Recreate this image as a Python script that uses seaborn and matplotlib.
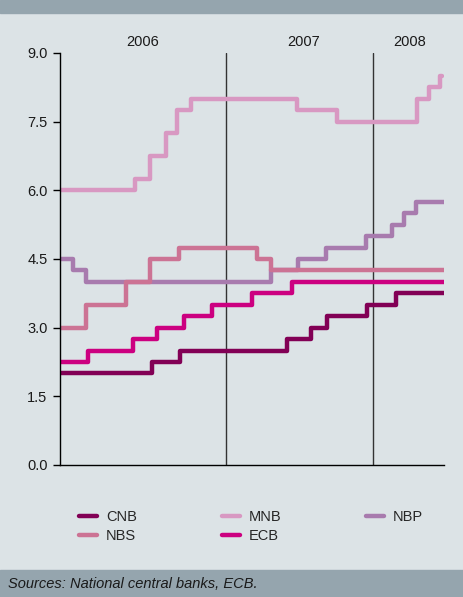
import numpy as np
import pandas as pd
import matplotlib
matplotlib.use("Agg")
import matplotlib.pyplot as plt
import seaborn as sns

# months counted from Jan 2006 (0 = start of 2006)
X_START, X_END = -1.55, 29.8

cnb_x = [X_START, 6.0, 8.25, 17.0, 18.95, 20.25, 23.5, 25.9, X_END]
cnb_y = [2.0, 2.25, 2.5, 2.75, 3.0, 3.25, 3.5, 3.75, 3.75]

mnb_x = [X_START, 4.55, 5.8, 7.1, 8.0, 9.15, 17.8, 21.05, 27.6, 28.55, 29.45, 29.65]
mnb_y = [6.0, 6.25, 6.75, 7.25, 7.75, 8.0, 7.75, 7.5, 8.0, 8.25, 8.5, 8.5]

nbp_x = [X_START, -0.5, 0.55, 15.7, 17.9, 20.15, 23.45, 25.55, 26.55, 27.5, X_END]
nbp_y = [4.5, 4.25, 4.0, 4.25, 4.5, 4.75, 5.0, 5.25, 5.5, 5.75, 5.75]

nbs_x = [X_START, 0.55, 3.85, 5.8, 8.15, 14.55, 15.7, X_END]
nbs_y = [3.0, 3.5, 4.0, 4.5, 4.75, 4.5, 4.25, 4.25]

ecb_x = [X_START, 0.75, 4.4, 6.35, 8.55, 10.85, 14.1, 17.4, X_END]
ecb_y = [2.25, 2.5, 2.75, 3.0, 3.25, 3.5, 3.75, 4.0, 4.0]

banks = ['CNB', 'MNB', 'NBP', 'NBS', 'ECB']
year_labels = ['2006', '2007', '2008']
year_label_x = [5.2, 18.3, 27.0]
year_breaks = [12, 24]
yticks = [0.0, 1.5, 3.0, 4.5, 6.0, 7.5, 9.0]

colors = {
    'CNB': '#820055',
    'MNB': '#d898c2',
    'NBP': '#a87bae',
    'NBS': '#cc7394',
    'ECB': '#cc0080',
}

BG = '#dce3e6'
BAND = '#95a5ae'
FS = 10.5

frames = []
for name, xs, ys in zip(banks, [cnb_x, mnb_x, nbp_x, nbs_x, ecb_x],
                        [cnb_y, mnb_y, nbp_y, nbs_y, ecb_y]):
    frames.append(pd.DataFrame({'month': xs, 'rate': ys, 'bank': name}))
df = pd.concat(frames, ignore_index=True)

sns.set_style('white')
plt.rcParams['font.family'] = ['Liberation Sans', 'DejaVu Sans']
plt.rcParams['font.size'] = FS

fig = plt.figure(figsize=(4.63, 5.97), dpi=100, facecolor=BG)
ax = fig.add_axes([60 / 463, 1 - 465 / 597, 384 / 463, 412 / 597])
ax.set_facecolor(BG)

sns.lineplot(data=df, x='month', y='rate', hue='bank', hue_order=banks,
             palette=colors, drawstyle='steps-post', lw=3.2, errorbar=None,
             sort=False, ax=ax)

for xb in year_breaks:
    ax.axvline(xb, color='#333333', lw=1.0, zorder=1)
for lab, xl in zip(year_labels, year_label_x):
    ax.text(xl, 1.026, lab, transform=ax.get_xaxis_transform(),
            ha='center', va='center', fontsize=FS, color='#1a1a1a')

ax.set_xlim(X_START, X_END)
ax.set_ylim(0, 9)
ax.set_yticks(yticks)
ax.set_yticklabels([f'{v:.1f}' for v in yticks])
ax.set_xticks([])
ax.set_xlabel('')
ax.set_ylabel('')
ax.tick_params(axis='y', left=True, length=5, width=1, color='black',
               labelsize=FS, labelcolor='#1a1a1a', pad=4)
for s in ['top', 'right']:
    ax.spines[s].set_visible(False)
for s in ['left', 'bottom']:
    ax.spines[s].set_color('black')
    ax.spines[s].set_linewidth(1.0)

# legend, filled column by column
handles, labels = ax.get_legend_handles_labels()
ax.get_legend().remove()
hmap = dict(zip(labels, handles))
order = ['CNB', 'NBS', 'MNB', 'ECB', 'NBP']
fig.legend([hmap[k] for k in order], order, ncol=3, frameon=False,
           loc='upper left', bbox_to_anchor=(66 / 463, 1 - 497 / 597),
           handlelength=1.25, handletextpad=0.6, columnspacing=5.8,
           labelspacing=0.35, fontsize=FS)

# top and bottom bands
fig.patches.append(plt.Rectangle((0, 1 - 13 / 597), 1, 13 / 597,
                                 transform=fig.transFigure, color=BAND, zorder=0))
fig.patches.append(plt.Rectangle((0, 0), 1, 27 / 597,
                                 transform=fig.transFigure, color=BAND, zorder=0))
fig.text(8 / 463, 13.5 / 597, 'Sources: National central banks, ECB.',
         ha='left', va='center', fontsize=FS, style='italic', color='#1a1a1a')

fig.savefig('out.png', dpi=100, facecolor=BG)
